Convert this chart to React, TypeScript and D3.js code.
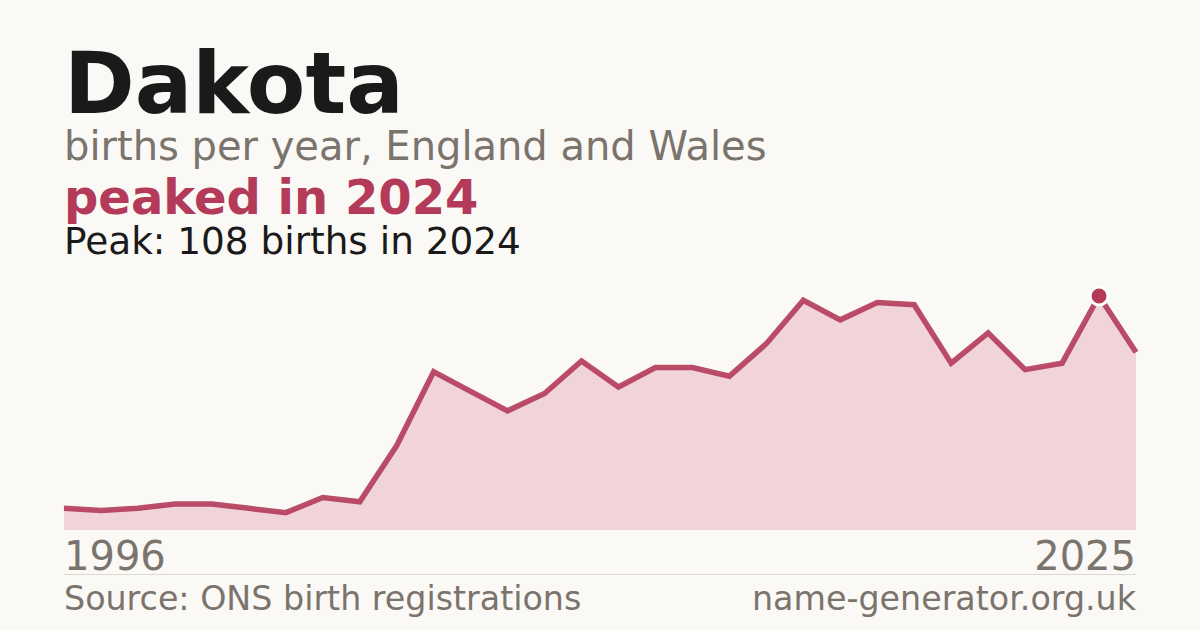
import React from "react";
import * as d3 from "d3";

const years = d3.range(1996, 2026);
const births = [
  10, 9, 10, 12, 12, 10, 8, 15, 13, 39, 73, 64, 55, 63, 78, 66, 75, 75, 71, 86,
  106, 97, 105, 104, 77, 91, 74, 77, 108, 82,
];

const title = "Dakota";
const subtitle = "births per year, England and Wales";
const headline = "peaked in 2024";
const peakNote = "Peak: 108 births in 2024";
const sourceNote = "Source: ONS birth registrations";
const siteNote = "name-generator.org.uk";

const W = 1200;
const H = 630;
const accent = "#b33a59";
const grey = "#7a746c";
const font = "'DejaVu Sans', sans-serif";

export default function App() {
  const margin = { left: 64, right: 64, top: 296, bottom: 530 };

  const x = d3
    .scaleLinear()
    .domain([years[0], years[years.length - 1]])
    .range([margin.left, W - margin.right]);

  const peak = d3.max(births)!;
  const y = d3.scaleLinear().domain([0, peak]).range([margin.bottom, margin.top]);

  const pts = years.map((yr, i) => ({ yr, v: births[i] }));

  const area = d3
    .area<{ yr: number; v: number }>()
    .x((d) => x(d.yr))
    .y0(y(0))
    .y1((d) => y(d.v));

  const line = d3
    .line<{ yr: number; v: number }>()
    .x((d) => x(d.yr))
    .y((d) => y(d.v));

  const peakIdx = births.indexOf(peak);

  return (
    <svg
      width={W}
      height={H}
      style={{ position: "fixed", left: 0, top: 0, display: "block" }}
      fontFamily={font}
    >
      <rect width={W} height={H} fill="#faf9f5" />

      <text x={64} y={113} fontSize={85.3} fontWeight="bold" fill="#1a1a1a">
        {title}
      </text>
      <text x={64} y={160} fontSize={40} fill={grey}>
        {subtitle}
      </text>
      <text x={64} y={214} fontSize={48} fontWeight="bold" fill={accent}>
        {headline}
      </text>
      <text x={64} y={254} fontSize={37.4} fill="#1a1a1a">
        {peakNote}
      </text>

      <path d={area(pts)!} fill="#f0d4da" />
      <path
        d={line(pts)!}
        fill="none"
        stroke={accent}
        strokeWidth={5.5}
        strokeLinejoin="miter"
        opacity={0.9}
      />
      <circle
        cx={x(years[peakIdx])}
        cy={y(peak)}
        r={9}
        fill={accent}
        stroke="#ffffff"
        strokeWidth={3}
      />

      <text x={x(years[0])} y={570} fontSize={40} fill={grey}>
        {years[0]}
      </text>
      <text
        x={x(years[years.length - 1])}
        y={570}
        fontSize={40}
        fill={grey}
        textAnchor="end"
      >
        {years[years.length - 1]}
      </text>

      <line x1={64} x2={W - 64} y1={574.5} y2={574.5} stroke="#dddad3" strokeWidth={1} />

      <text x={64} y={610} fontSize={33.3} fill={grey}>
        {sourceNote}
      </text>
      <text x={W - 64} y={610} fontSize={33.3} fill={grey} textAnchor="end">
        {siteNote}
      </text>
    </svg>
  );
}
